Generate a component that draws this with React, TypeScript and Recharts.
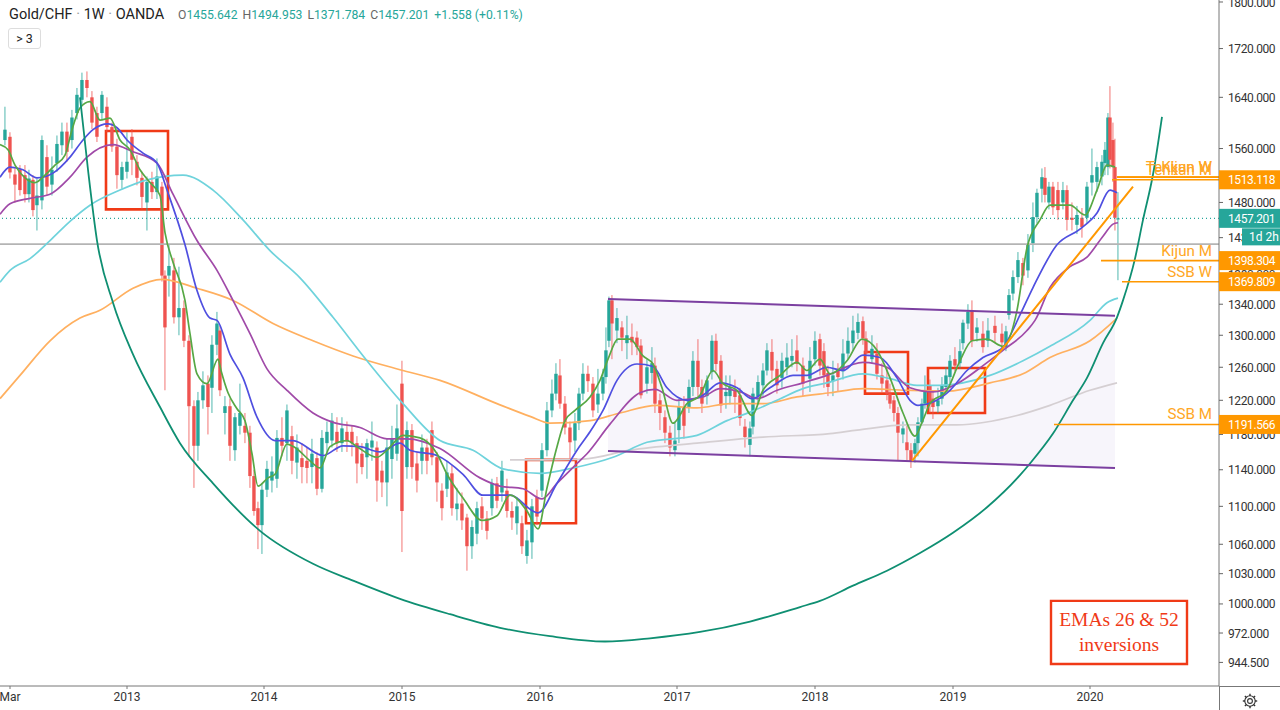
import React from "react";
import { Area, Bar, ComposedChart, Line, ReferenceArea, ReferenceLine, XAxis, YAxis } from "recharts";

// Time runs in chart units (about 2.65 days each); rows are [time, open, close, high, low].
type Row = [number, number, number, number, number];
const candles2012: Row[] = [
  [5,1573,1589,1625,1565],[10,1578,1524,1585,1515],[15,1521,1506,1530,1480],[20,1528,1498,1535,1490],[25,1520,1492,1535,1480],[29,1492,1515,1528,1480],[33,1513,1469,1520,1460],[37,1476,1490,1515,1440],[42,1483,1573,1580,1470],[47,1547,1503,1565,1490],[52,1506,1528,1548,1490],[57,1538,1567,1580,1525],[62,1565,1586,1600,1550],[67,1586,1555,1600,1540],[72,1573,1608,1620,1560],[77,1615,1644,1655,1605],[82,1636,1668,1680,1628],[87,1668,1655,1682,1640],[92,1640,1600,1650,1590],[97,1615,1578,1625,1570],[102,1615,1644,1650,1605],[107,1625,1593,1640,1585],[112,1593,1563,1600,1555],[117,1563,1520,1575,1500],[122,1513,1532,1540,1500],[127,1525,1540,1585,1515],[132,1578,1543,1590,1520],[137,1540,1516,1550,1505],
];
const candles2013: Row[] = [
  [142,1516,1488,1525,1470],[147,1480,1510,1518,1440],[152,1510,1495,1525,1485],[157,1495,1518,1545,1485],[162,1503,1378,1510,1370],[165,1378,1310,1385,1232],[169,1378,1391,1420,1350],[174,1385,1323,1402,1315],[179,1323,1335,1390,1300],[184,1335,1293,1345,1285],[189,1293,1213,1300,1155],[194,1213,1167,1220,1120],[198,1167,1220,1230,1150],[203,1220,1238,1255,1210],[208,1240,1212,1250,1180],[212,1235,1288,1300,1205],[217,1288,1315,1330,1275],[220,1306,1232,1312,1225],[225,1205,1213,1225,1180],[230,1213,1167,1222,1150],[235,1162,1200,1205,1150],[240,1190,1205,1240,1180],[245,1190,1182,1205,1170],[250,1182,1133,1190,1120],[254,1133,1095,1140,1090],[258,1098,1080,1105,1055],[262,1080,1118,1125,1050],[267,1118,1141,1150,1110],[272,1128,1138,1155,1115],[277,1130,1176,1185,1120],
];
const candles2014: Row[] = [
  [282,1176,1167,1200,1155],[287,1170,1208,1215,1150],[292,1178,1150,1190,1135],[297,1148,1165,1180,1130],[302,1153,1143,1170,1125],[307,1150,1142,1165,1125],[312,1143,1158,1175,1125],[317,1153,1119,1160,1112],[322,1119,1176,1185,1115],[327,1170,1183,1195,1160],[332,1173,1196,1205,1165],[337,1183,1170,1200,1160],[342,1170,1187,1200,1160],[347,1183,1172,1195,1160],[352,1183,1170,1190,1155],[357,1170,1147,1178,1125],[362,1158,1143,1170,1135],[367,1154,1170,1175,1130],[372,1165,1173,1195,1150],[377,1165,1128,1172,1105],[382,1139,1126,1150,1110],[387,1126,1165,1175,1100],[392,1152,1175,1190,1130],[397,1158,1187,1215,1150],[402,1240,1095,1268,1052],
];
const candles2015: Row[] = [
  [407,1143,1185,1195,1130],[412,1185,1143,1192,1130],[417,1147,1128,1160,1115],[422,1150,1165,1180,1135],[427,1165,1150,1175,1135],[432,1185,1154,1195,1145],[437,1154,1126,1160,1105],[442,1117,1098,1125,1085],[447,1119,1137,1150,1110],[452,1136,1098,1145,1090],[457,1097,1103,1120,1085],[462,1103,1085,1115,1075],[467,1088,1058,1092,1033],[472,1058,1078,1085,1045],[477,1071,1098,1105,1060],[482,1100,1087,1110,1075],[487,1087,1074,1095,1065],[492,1098,1125,1130,1090],[497,1125,1106,1132,1098],[502,1115,1139,1150,1105],[507,1117,1095,1130,1088],[512,1095,1088,1105,1075],[517,1082,1100,1110,1070],[522,1082,1058,1090,1050],[527,1048,1064,1075,1040],[532,1062,1100,1108,1045],
];
const candles2016: Row[] = [
  [537,1110,1089,1118,1080],[542,1117,1162,1170,1110],[547,1162,1208,1218,1155],[552,1208,1228,1245,1200],[556,1228,1252,1265,1220],[560,1250,1216,1270,1210],[565,1216,1188,1225,1180],[570,1188,1171,1195,1150],[575,1173,1193,1205,1160],[579,1193,1228,1235,1185],[583,1228,1252,1265,1220],[588,1252,1243,1262,1230],[593,1240,1208,1248,1200],[598,1215,1228,1258,1205],[603,1228,1248,1258,1220],[606,1248,1281,1310,1240],[609,1293,1345,1350,1285],[612,1345,1315,1352,1270],[617,1306,1322,1335,1290],[622,1310,1297,1318,1280],[627,1290,1300,1325,1270],[632,1298,1291,1315,1275],[637,1297,1285,1305,1275],[641,1287,1226,1295,1222],[647,1240,1260,1270,1228],[652,1253,1265,1285,1240],[655,1262,1216,1272,1205],[660,1220,1205,1228,1185],[665,1200,1182,1208,1170],[670,1182,1165,1190,1155],[675,1162,1173,1195,1155],
];
const candles2017: Row[] = [
  [679,1185,1212,1222,1170],[684,1212,1190,1225,1175],[689,1212,1236,1245,1205],[693,1236,1268,1280,1225],[698,1268,1236,1295,1225],[702,1236,1216,1245,1205],[707,1225,1244,1250,1215],[712,1254,1293,1300,1245],[716,1293,1264,1302,1255],[721,1268,1214,1275,1205],[726,1225,1230,1250,1210],[730,1225,1236,1250,1215],[735,1232,1224,1245,1205],[740,1226,1199,1235,1190],[745,1189,1177,1198,1165],[750,1168,1187,1195,1155],[753,1189,1228,1235,1180],[758,1225,1242,1250,1215],[763,1238,1256,1265,1225],[767,1256,1281,1290,1250],[772,1279,1256,1295,1245],[777,1258,1238,1268,1228],[782,1247,1268,1278,1235],[787,1260,1272,1290,1250],[792,1268,1274,1295,1260],[797,1281,1264,1300,1255],[803,1262,1240,1272,1225],
];
const candles2018: Row[] = [
  [810,1246,1268,1285,1230],[815,1270,1293,1305,1262],[820,1295,1262,1302,1250],[824,1280,1250,1290,1235],[828,1253,1236,1262,1225],[833,1243,1250,1268,1225],[838,1258,1248,1265,1230],[843,1255,1277,1295,1245],[848,1277,1293,1310,1270],[853,1290,1306,1325,1280],[858,1303,1317,1328,1295],[863,1318,1296,1324,1288],[866,1296,1277,1305,1270],[872,1270,1283,1300,1265],[877,1277,1252,1290,1245],[882,1250,1240,1265,1230],[887,1244,1228,1260,1220],[890,1228,1216,1240,1210],[894,1220,1205,1225,1195],[898,1205,1182,1212,1150],[903,1180,1187,1195,1170],[907,1171,1162,1190,1150],[911,1162,1150,1170,1142],[915,1158,1170,1175,1148],[918,1170,1194,1200,1155],[922,1194,1216,1222,1190],[925,1216,1232,1250,1210],[930,1238,1216,1245,1205],[933,1222,1212,1230,1198],[938,1213,1220,1235,1205],[942,1222,1238,1248,1215],[946,1236,1250,1260,1230],[950,1248,1268,1275,1240],[955,1270,1262,1285,1255],
];
const candles2019: Row[] = [
  [960,1265,1280,1295,1258],[963,1290,1316,1320,1282],[968,1315,1330,1340,1308],[972,1332,1293,1345,1285],[977,1303,1310,1322,1292],[983,1302,1285,1318,1278],[988,1293,1306,1322,1285],[995,1312,1303,1325,1290],[1002,1302,1291,1315,1280],[1006,1285,1305,1312,1280],[1009,1326,1352,1360,1320],[1013,1354,1376,1385,1345],[1018,1376,1399,1410,1368],[1023,1395,1378,1402,1365],[1028,1385,1420,1435,1375],[1033,1422,1459,1480,1410],[1037,1459,1494,1500,1450],[1042,1500,1517,1530,1480],[1045,1516,1491,1532,1480],[1049,1480,1503,1510,1470],[1053,1503,1473,1510,1462],[1058,1498,1469,1510,1455],[1063,1480,1498,1510,1470],[1067,1498,1455,1505,1440],[1072,1458,1455,1480,1440],[1077,1448,1462,1475,1435],[1082,1458,1445,1472,1430],[1087,1458,1503,1510,1450],
];
const candles2020: Row[] = [
  [1092,1509,1520,1560,1490],[1097,1510,1532,1540,1495],[1102,1518,1540,1550,1505],[1105,1538,1558,1570,1520],[1108,1532,1608,1615,1520],[1110,1608,1543,1658,1530],[1113,1573,1532,1600,1510],[1115,1532,1458,1575,1440],[1118,1455.642,1457.201,1494.953,1371.784],
];

type Pt = [number, number];
const emaGreen: Pt[] = [[0,1566],[8,1558],[15,1535],[25,1516],[35,1509],[45,1520],[55,1535],[65,1550],[72,1589],[80,1623],[90,1633],[100,1604],[110,1607],[120,1573],[130,1558],[140,1528],[150,1509],[160,1490],[165,1437],[173,1396],[185,1345],[190,1302],[197,1252],[207,1240],[218,1270],[221,1256],[228,1229],[237,1210],[245,1196],[252,1158],[258,1122],[268,1131],[275,1135],[287,1169],[295,1165],[310,1150],[320,1142],[330,1166],[347,1173],[357,1166],[377,1154],[387,1162],[403,1179],[420,1176],[437,1158],[447,1135],[463,1109],[482,1085],[497,1090],[510,1112],[527,1095],[538,1076],[547,1120],[557,1166],[565,1196],[575,1208],[590,1224],[600,1244],[608,1270],[618,1295],[630,1295],[643,1274],[653,1264],[662,1235],[673,1193],[687,1216],[700,1226],[713,1256],[723,1240],[737,1232],[752,1202],[763,1232],[780,1250],[797,1266],[807,1256],[820,1270],[830,1252],[847,1268],[862,1295],[877,1281],[890,1247],[903,1205],[915,1178],[922,1194],[930,1216],[947,1232],[960,1268],[972,1293],[987,1295],[1003,1286],[1017,1332],[1027,1416],[1040,1455],[1050,1476],[1070,1476],[1085,1462],[1097,1498],[1107,1535],[1115,1532]];
const emaBlue: Pt[] = [[0,1517],[10,1532],[23,1528],[37,1516],[53,1523],[70,1547],[83,1573],[93,1589],[108,1598],[117,1592],[127,1573],[143,1553],[157,1538],[167,1498],[185,1420],[197,1358],[210,1322],[217,1319],[230,1276],[243,1247],[257,1200],[275,1173],[293,1173],[323,1156],[343,1167],[360,1166],[380,1160],[400,1170],[410,1162],[437,1156],[463,1135],[483,1112],[510,1112],[538,1093],[557,1125],[577,1162],[590,1183],[603,1208],[617,1244],[637,1264],[653,1261],[667,1235],[687,1220],[703,1226],[720,1241],[737,1235],[752,1222],[770,1235],[793,1250],[807,1250],[827,1260],[843,1256],[863,1275],[880,1272],[897,1247],[910,1220],[918,1214],[933,1218],[950,1232],[967,1256],[983,1272],[1003,1285],[1020,1326],[1033,1362],[1057,1420],[1080,1442],[1097,1465],[1110,1498],[1117,1494]];
const emaPurple: Pt[] = [[0,1463],[10,1478],[30,1486],[50,1492],[70,1517],[87,1547],[113,1566],[133,1555],[157,1538],[173,1492],[197,1426],[217,1385],[233,1345],[250,1302],[267,1258],[287,1232],[313,1205],[333,1194],[360,1188],[387,1175],[407,1175],[440,1164],[480,1131],[500,1122],[523,1119],[542,1108],[557,1125],[577,1147],[587,1158],[610,1192],[640,1229],[655,1233],[677,1220],[703,1224],[720,1234],[743,1229],[757,1222],[777,1232],[803,1241],[827,1250],[863,1266],[887,1260],[910,1235],[933,1230],[957,1240],[983,1262],[1003,1281],[1027,1306],[1035,1319],[1050,1362],[1070,1390],[1087,1403],[1103,1432],[1113,1449],[1118,1451]];
const emaCyan: Pt[] = [[0,1369],[10,1385],[30,1401],[50,1426],[70,1453],[90,1476],[120,1498],[147,1513],[183,1520],[213,1498],[243,1455],[270,1412],[300,1375],[333,1323],[367,1268],[403,1216],[440,1173],[473,1162],[503,1141],[540,1136],[573,1142],[613,1154],[647,1171],[697,1179],[727,1196],[750,1206],[777,1220],[803,1234],[827,1241],[863,1252],[890,1246],[917,1238],[940,1238],[990,1250],[1023,1268],[1050,1286],[1090,1319],[1107,1342],[1118,1348]];
const emaOrange: Pt[] = [[0,1222],[20,1250],[50,1293],[80,1322],[100,1332],[133,1361],[162,1373],[197,1361],[233,1345],[273,1315],[313,1293],[353,1274],[400,1257],[440,1244],[497,1216],[530,1201],[550,1193],[590,1196],[620,1205],[657,1214],[697,1211],[730,1216],[763,1216],[797,1224],[830,1229],[863,1234],[907,1232],[947,1231],[990,1241],[1023,1252],[1050,1272],[1090,1293],[1117,1322]];
const smaGrey: Pt[] = [[510,1151],[583,1152],[630,1162],[697,1170],[763,1177],[830,1181],[857,1185],[907,1191],[957,1191],[1017,1202],[1050,1214],[1090,1232],[1117,1241]];
const cupArc: Pt[] = [[80,1640],[88,1528],[97,1426],[113,1342],[133,1276],[160,1212],[180,1170],[213,1125],[260,1074],[313,1040],[353,1023],[400,1005],[450,990],[500,977],[550,969],[605,964],[650,967],[700,973],[750,983],[800,997],[820,1003],[853,1018],[887,1033],[920,1051],[953,1072],[987,1099],[1020,1134],[1030,1147],[1053,1181],[1073,1220],[1087,1247],[1103,1290],[1117,1323],[1123,1345],[1135,1401],[1143,1455],[1153,1521],[1162,1609]];
const channelTop: Pt[] = [[608,1347],[1115,1325]];
const channelBottom: Pt[] = [[608,1161],[1115,1142]];
const trendLine: Pt[] = [[912,1150],[1133,1503]];

const xTicks = [10, 127, 264, 402, 540, 677, 815, 953, 1090];
const xTickLabels = ["Mar", "2013", "2014", "2015", "2016", "2017", "2018", "2019", "2020"];
const priceTicks = [1800, 1720, 1640, 1560, 1480, 1430, 1380, 1340, 1300, 1260, 1220, 1180, 1140, 1100, 1060, 1030, 1000, 972, 944.5];
const orangeTags = [1191.566, 1369.809, 1398.304, 1513.118];
const lastPrice = 1457.201;
const levelLabels: { name: string; price: number; from: number }[] = [
  { name: "Kijun W", price: 1517, from: 1117 },
  { name: "Tenkan W", price: 1517, from: 1117 },
  { name: "Tenkan M", price: 1513.118, from: 1112 },
  { name: "Kijun M", price: 1398.304, from: 1101 },
  { name: "SSB W", price: 1369.809, from: 1122 },
  { name: "SSB M", price: 1191.566, from: 1054 },
];
const boxes = [
  { x1: 106, x2: 168, y1: 1470, y2: 1587 },
  { x1: 526, x2: 576, y1: 1082, y2: 1151 },
  { x1: 865, x2: 908, y1: 1228, y2: 1279 },
  { x1: 928, x2: 985, y1: 1205, y2: 1259 },
];

const RED = "#ef5350";
const TEAL = "#26a69a";
const ORANGE = "#ff9800";
const FONT = "Roboto, 'Noto Sans', sans-serif";
const BODY_WIDTH = 3.4;

const toPts = (a: Pt[]) => a.map(([t, v]) => ({ t, v }));
const rows = [...candles2012, ...candles2013, ...candles2014, ...candles2015, ...candles2016, ...candles2017, ...candles2018, ...candles2019, ...candles2020]
  .map(([t, o, c, h, l]) => ({ t, o, c, h, l, range: [l, h] }));
const channelFill = channelTop.map(([t, top], i) => ({ t, band: [channelBottom[i][1], top] }));

const Candle = (p: any) => {
  const { x, y, width, height, payload } = p;
  const { o, c, h, l } = payload;
  const yAt = (v: number) => y + ((Math.log(h) - Math.log(v)) / (Math.log(h) - Math.log(l))) * height;
  const color = c >= o ? TEAL : RED;
  const top = yAt(Math.max(o, c));
  const bot = yAt(Math.min(o, c));
  const mid = x + width / 2;
  return (
    <g>
      <line x1={mid} x2={mid} y1={y} y2={y + height} stroke={color} strokeOpacity={0.8} strokeWidth={1} />
      <rect x={mid - BODY_WIDTH / 2} y={top} width={BODY_WIDTH} height={Math.max(1, bot - top)} fill={color} />
    </g>
  );
};

const tickText = { fontSize: 12, letterSpacing: -0.4, fontFamily: FONT };

const PriceTick = (p: any) => {
  const { x, y, payload } = p;
  const v = payload.value as number;
  const label = v.toFixed(3);
  const isTag = orangeTags.includes(v);
  if (isTag || v === lastPrice) {
    return (
      <g>
        <rect x={x} y={y - 9.5} width={61} height={19} fill={isTag ? ORANGE : TEAL} />
        <text x={x + 9} y={y + 4.5} fill="#fff" {...tickText}>{label}</text>
        {v === lastPrice && (
          <g>
            <rect x={x + 23} y={y + 10} width={38} height={17} fill={TEAL} />
            <text x={x + 30} y={y + 23} fontSize={12} fill="#fff" fontFamily={FONT}>1d 2h</text>
          </g>
        )}
      </g>
    );
  }
  return (
    <g>
      <line x1={x} x2={x + 4} y1={y} y2={y} stroke="#666" />
      <text x={x + 9} y={y + 4.5} fill="#333" {...tickText}>{label}</text>
    </g>
  );
};

const Header = () => {
  const val: React.CSSProperties = { color: TEAL, marginRight: 5 };
  const key: React.CSSProperties = { color: "#666" };
  return (
    <>
      <div style={{ position: "absolute", left: 9, top: 6, fontFamily: FONT, fontSize: 14.5, color: "#222", whiteSpace: "pre" }}>
        Gold/CHF <span style={{ color: "#999" }}>·</span> 1W <span style={{ color: "#999" }}>·</span> OANDA
      </div>
      <div style={{ position: "absolute", left: 178, top: 8, fontFamily: FONT, fontSize: 12.2, whiteSpace: "pre" }}>
        <span style={key}>O</span><span style={val}>1455.642</span>
        <span style={key}>H</span><span style={val}>1494.953</span>
        <span style={key}>L</span><span style={val}>1371.784</span>
        <span style={key}>C</span><span style={val}>1457.201</span>
        <span style={{ color: TEAL }}>+1.558 (+0.11%)</span>
      </div>
      <div style={{ position: "absolute", left: 8, top: 28, width: 31, height: 19, border: "1px solid #ddd", borderRadius: 3, fontFamily: FONT, fontSize: 12.5, color: "#222", textAlign: "center", lineHeight: "19px", background: "#fff" }}>
        &gt; 3
      </div>
      <div style={{ position: "absolute", left: 1219, top: 686, width: 61, height: 1, background: "#777" }} />
      <div style={{ position: "absolute", left: 1219, top: 686, width: 1, height: 24, background: "#777" }} />
      <svg style={{ position: "absolute", left: 1242, top: 693 }} width={16} height={16} viewBox="0 0 16 16">
        <circle cx={8} cy={8} r={2.4} fill="none" stroke="#333" strokeWidth={1.1} />
        <circle cx={8} cy={8} r={5.2} fill="none" stroke="#333" strokeWidth={1.1} />
        {[0, 45, 90, 135, 180, 225, 270, 315].map((a) => (
          <line key={a} x1={8} y1={0.8} x2={8} y2={3} stroke="#333" strokeWidth={1.4} transform={`rotate(${a} 8 8)`} />
        ))}
      </svg>
    </>
  );
};

const emaLine = (key: string, pts: Pt[], color: string, w = 1.7) => (
  <Line key={key} data={toPts(pts)} dataKey="v" type="monotone" stroke={color} strokeWidth={w} dot={false} activeDot={false} isAnimationActive={false} legendType="none" />
);

export default function App() {
  const prices = [...priceTicks, ...orangeTags, lastPrice];
  return (
    <div style={{ position: "absolute", left: 0, top: 0, width: 1280, height: 710, background: "#fff", overflow: "hidden" }}>
      <ComposedChart width={1280} height={710} data={rows} margin={{ top: 0, right: 0, bottom: 0, left: 0 }}>
        <XAxis dataKey="t" type="number" domain={[0, 1219]} ticks={xTicks} interval={0} height={24} allowDataOverflow
          tickFormatter={(v: number) => xTickLabels[xTicks.indexOf(v)]} tick={{ fontSize: 12, fill: "#333", fontFamily: FONT }}
          axisLine={{ stroke: "#777" }} tickLine={{ stroke: "#777" }} tickSize={3} tickMargin={3} />
        <YAxis orientation="right" scale="log" domain={[923, 1803.5]} allowDataOverflow ticks={prices} interval={0} width={61}
          tick={<PriceTick />} tickSize={0} tickMargin={0} tickLine={false} axisLine={{ stroke: "#777" }} />
        <Area data={channelFill} dataKey="band" type="linear" stroke="none" fill="#7e57c2" fillOpacity={0.06} dot={false} activeDot={false} isAnimationActive={false} legendType="none" />
        <ReferenceLine y={1421} stroke="#b4b4b4" strokeWidth={1.6} />
        <ReferenceLine y={lastPrice} stroke={TEAL} strokeDasharray="1 3" strokeWidth={1.2} />
        <Bar dataKey="range" barSize={3} shape={<Candle />} isAnimationActive={false} legendType="none" />
        {emaLine("grey", smaGrey, "#d5cfd2")}
        {emaLine("orange", emaOrange, "#ffb060")}
        {emaLine("cyan", emaCyan, "#6fd3dc")}
        {emaLine("purple", emaPurple, "#a04aa8")}
        {emaLine("blue", emaBlue, "#4f4fe0")}
        {emaLine("green", emaGreen, "#57a845")}
        {emaLine("arc", cupArc, "#0f8f72", 1.8)}
        {emaLine("top", channelTop, "#7b3fa0", 2)}
        {emaLine("bottom", channelBottom, "#7b3fa0", 2)}
        {emaLine("trend", trendLine, ORANGE, 2)}
        {levelLabels.map((lv) => (
          <Line key={lv.name} data={[{ t: lv.from, v: lv.price }, { t: 1219, v: lv.price }]} dataKey="v" type="linear" stroke={ORANGE} strokeWidth={1.6}
            dot={false} activeDot={false} isAnimationActive={false} legendType="none"
            label={(p: any) => p.index === 1 ? (
              <text key={lv.name} x={p.x - 7} y={p.y - 5} textAnchor="end" fontSize={15.2} fill="#ffa726" fontFamily={FONT}>{lv.name}</text>
            ) : <g key={p.index} />} />
        ))}
        {boxes.map((b, i) => (
          <ReferenceArea key={i} x1={b.x1} x2={b.x2} y1={b.y1} y2={b.y2} fill="none" stroke="#f03a17" strokeWidth={2.6} />
        ))}
        <ReferenceArea x1={1051} x2={1187} y1={943} y2={1003} fill="#fff" fillOpacity={1} stroke="#f03a17" strokeWidth={2.4}
          label={(p: any) => (
            <text textAnchor="middle" fontFamily="'Liberation Serif', serif" fontSize={19.5} fill="#f03a17">
              <tspan x={p.viewBox.x + p.viewBox.width / 2} y={p.viewBox.y + 25}>EMAs 26 &amp; 52</tspan>
              <tspan x={p.viewBox.x + p.viewBox.width / 2} y={p.viewBox.y + 50}>inversions</tspan>
            </text>
          )} />
      </ComposedChart>
      <Header />
    </div>
  );
}
